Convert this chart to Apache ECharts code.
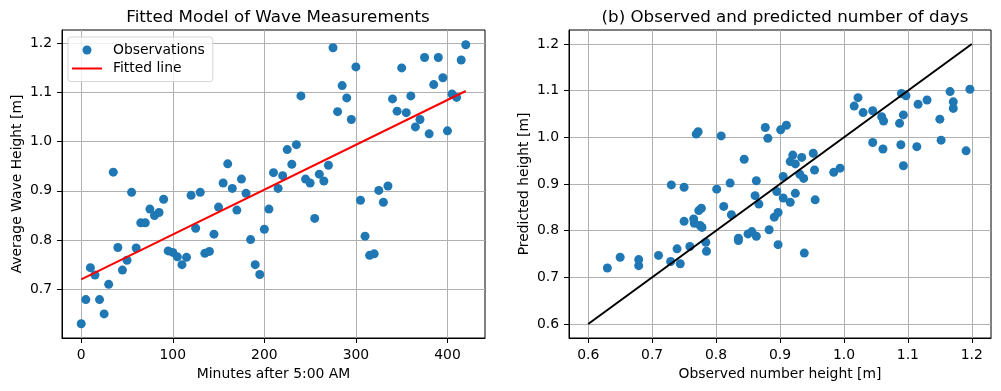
<!DOCTYPE html>
<html>
<head>
<meta charset="utf-8">
<script src="https://cdn.jsdelivr.net/npm/echarts@6/dist/echarts.min.js"></script>
<style>
html,body{margin:0;padding:0;background:#fff;}
#chart{width:1001px;height:391px;}
</style>
</head>
<body>
<div id="chart"></div>
<script>
// ---- data ----
const minutes = [0,5,10,15,20,25,30,35,40,45,
  50,55,60,65,70,75,80,85,90,95,
  100,105,110,115,120,125,130,135,140,145,
  150,155,160,165,170,175,180,185,190,195,
  200,205,210,215,220,225,230,235,240,245,
  250,255,260,265,270,275,280,285,290,295,
  300,305,310,315,320,325,330,335,340,345,
  350,355,360,365,370,375,380,385,390,395,
  400,405,410,415,420];
const heights = [0.630,0.679,0.744,0.729,0.679,0.650,0.710,0.938,0.785,0.739,
  0.759,0.897,0.784,0.835,0.835,0.863,0.850,0.856,0.883,0.778,
  0.775,0.766,0.750,0.765,0.891,0.824,0.897,0.773,0.777,0.812,
  0.867,0.916,0.955,0.905,0.861,0.924,0.895,0.801,0.750,0.730,
  0.822,0.863,0.937,0.905,0.931,0.984,0.954,0.994,1.093,0.924,
  0.916,0.844,0.934,0.920,0.952,1.191,1.061,1.114,1.089,1.045,
  1.152,0.881,0.808,0.769,0.772,0.901,0.877,0.910,1.087,1.062,
  1.150,1.059,1.093,1.030,1.045,1.171,1.016,1.116,1.171,1.130,
  1.022,1.097,1.090,1.166,1.197];
const predicted = [0.720,0.725,0.729,0.734,0.738,0.743,0.747,0.752,0.756,0.761,
  0.766,0.770,0.775,0.779,0.784,0.788,0.793,0.798,0.802,0.807,
  0.811,0.816,0.820,0.825,0.829,0.834,0.839,0.843,0.848,0.852,
  0.857,0.861,0.866,0.870,0.875,0.880,0.884,0.889,0.893,0.898,
  0.902,0.907,0.912,0.916,0.921,0.925,0.930,0.934,0.939,0.943,
  0.948,0.953,0.957,0.962,0.966,0.971,0.975,0.980,0.984,0.989,
  0.994,0.998,1.003,1.007,1.012,1.016,1.021,1.026,1.030,1.035,
  1.039,1.044,1.048,1.053,1.057,1.062,1.067,1.071,1.076,1.080,
  1.085,1.089,1.094,1.098,1.103];
const fitX = [0, 420];
const fitY = [0.720, 1.103];
const diagX = [0.6, 1.2];
const diagY = [0.6, 1.2];
const leftXTicks = [0, 100, 200, 300, 400];
const leftYTicks = [0.7, 0.8, 0.9, 1.0, 1.1, 1.2];
const rightXTicks = [0.6, 0.7, 0.8, 0.9, 1.0, 1.1, 1.2];
const rightYTicks = [0.6, 0.7, 0.8, 0.9, 1.0, 1.1, 1.2];

// ---- chart ----
const FONT = 'DejaVu Sans';
const FS = 13.9;
const chart = echarts.init(document.getElementById('chart'), null, {renderer: 'canvas'});

function axis(extra, ticks, fmt) {
  return Object.assign({
    type: 'value',
    axisLine: {show: true, onZero: false, lineStyle: {color: '#000', width: 1}},
    axisTick: {show: true, inside: false, length: 5, lineStyle: {color: '#000', width: 1}, customValues: ticks},
    axisLabel: {color: '#000', fontFamily: FONT, fontSize: FS, margin: 10, customValues: ticks, formatter: fmt},
    splitLine: {show: true, lineStyle: {color: '#b0b0b0', width: 1}},
    nameLocation: 'middle',
    nameTextStyle: {color: '#000', fontFamily: FONT, fontSize: FS}
  }, extra);
}
const f0 = v => String(Math.round(v));
const f1 = v => Number(v).toFixed(1);
// thin horizontal bar icon (tiny anchors keep the bar thin inside the 30x9 legend box)
const LINE_ICON = 'path://M0,0 L0.01,0 L0,0.01 Z M0,3.5 L30,3.5 L30,5.5 L0,5.5 Z M30,9 L29.99,9 L30,8.99 Z';

const option = {
  animation: false,
  backgroundColor: '#fff',
  title: [
    {text: 'Fitted Model of Wave Measurements', left: 273, top: 4, textAlign: 'center',
     textStyle: {fontFamily: FONT, fontSize: 16.7, fontWeight: 'normal', color: '#000'}},
    {text: '(b) Observed and predicted number of days', left: 780, top: 4, textAlign: 'center',
     textStyle: {fontFamily: FONT, fontSize: 16.7, fontWeight: 'normal', color: '#000'}}
  ],
  legend: {
    left: 68, top: 37, orient: 'vertical',
    padding: [5, 8, 5, 4], itemWidth: 30, itemHeight: 9, itemGap: 2.6,
    backgroundColor: 'rgba(255,255,255,0.8)', borderColor: '#d6d6d6', borderWidth: 1, borderRadius: 3,
    textStyle: {fontFamily: FONT, fontSize: FS, color: '#000', lineHeight: 16, padding: [0, 0, 0, 6]},
    data: [{name: 'Observations', icon: 'circle'}, {name: 'Fitted line', icon: LINE_ICON}]
  },
  grid: [
    {left: 62, top: 30, width: 423, height: 308, show: true, borderColor: '#000', borderWidth: 1, containLabel: false},
    {left: 569, top: 30, width: 422, height: 308, show: true, borderColor: '#000', borderWidth: 1, containLabel: false}
  ],
  xAxis: [
    axis({gridIndex: 0, min: -21, max: 441, name: 'Minutes after 5:00 AM', nameGap: 29}, leftXTicks, f0),
    axis({gridIndex: 1, min: 0.57, max: 1.23, name: 'Observed number height [m]', nameGap: 29}, rightXTicks, f1)
  ],
  yAxis: [
    axis({gridIndex: 0, min: 0.601, max: 1.227, name: 'Average Wave Height [m]', nameGap: 38}, leftYTicks, f1),
    axis({gridIndex: 1, min: 0.57, max: 1.23, name: 'Predicted height [m]', nameGap: 38}, rightYTicks, f1)
  ],
  series: [
    {name: 'Observations', type: 'scatter', xAxisIndex: 0, yAxisIndex: 0, symbolSize: 9,
     itemStyle: {color: '#1f77b4', opacity: 1}, z: 2,
     data: minutes.map((t, i) => [t, heights[i]])},
    {name: 'Fitted line', type: 'line', xAxisIndex: 0, yAxisIndex: 0, symbol: 'none',
     lineStyle: {color: '#ff0000', width: 2}, itemStyle: {color: '#ff0000'}, z: 3,
     data: fitX.map((x, i) => [x, fitY[i]])},
    {name: 'Predicted vs observed', type: 'scatter', xAxisIndex: 1, yAxisIndex: 1, symbolSize: 9,
     itemStyle: {color: '#1f77b4', opacity: 1}, z: 2,
     data: heights.map((h, i) => [h, predicted[i]])},
    {name: 'Identity', type: 'line', xAxisIndex: 1, yAxisIndex: 1, symbol: 'none',
     lineStyle: {color: '#000', width: 2}, itemStyle: {color: '#000'}, z: 3,
     data: diagX.map((x, i) => [x, diagY[i]])}
  ]
};
chart.setOption(option);
</script>
</body>
</html>
